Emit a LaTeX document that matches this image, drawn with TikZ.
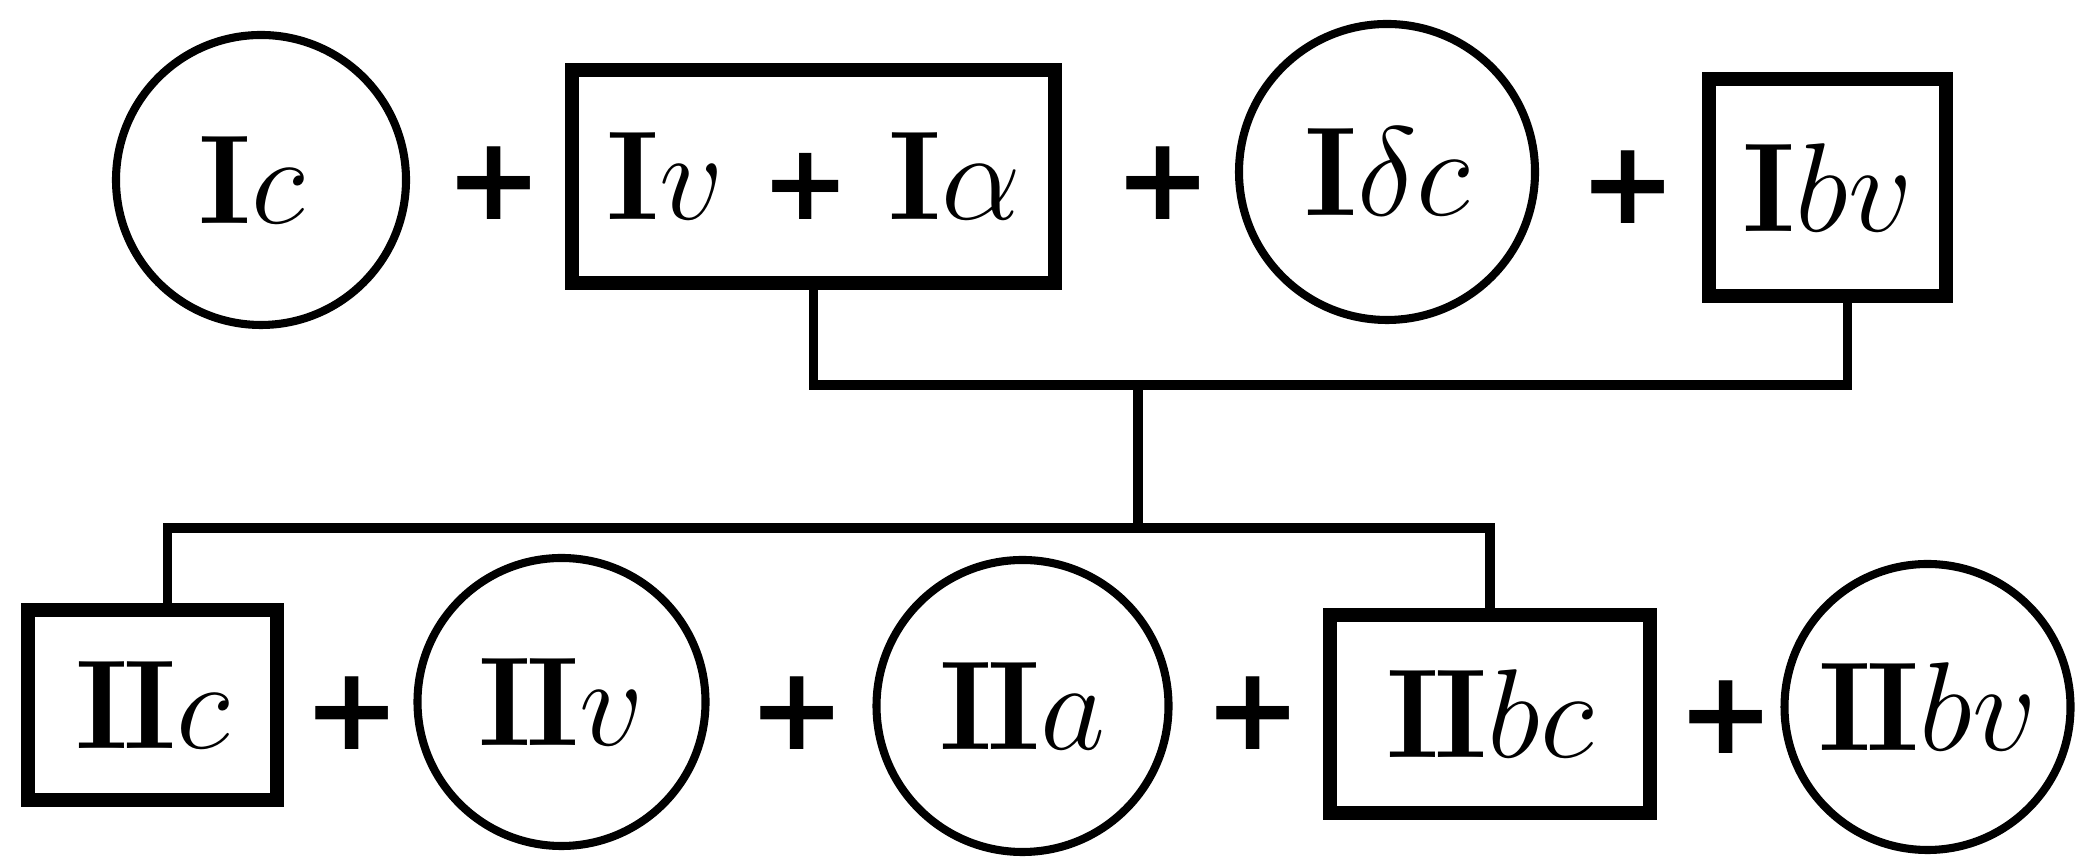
\RequirePackage{fix-cm}
\documentclass[tikz,border=0pt]{standalone}
\usepackage{fontspec}
\newfontfamily\plusfont{DejaVu Sans}
\usepackage{tikz}
\usetikzlibrary{positioning}

\begin{document}
\begin{tikzpicture}[
  circ/.style  = {draw, circle, line width=2.3pt, inner sep=0pt,
                  font=\fontsize{36}{40}\selectfont},
  box/.style   = {draw, rectangle, line width=4pt, inner sep=0pt,
                  font=\fontsize{36}{40}\selectfont},
  plus/.style  = {inner sep=0pt, font=\plusfont\fontsize{33}{35}\selectfont\bfseries},
  link/.style  = {line width=2.8pt}
]
\useasboundingbox (0,0) rectangle (20.79,8.58);

%% ---- TOP ROW ----
\node[circ, minimum size=2.90cm] (ic)  at (2.61,6.78)  {\textbf{I}$c$\kern0.15em};
\node[plus]                      (p1)  at (4.94,6.75)  {+};
\node[box, minimum width=4.83cm,
      minimum height=2.13cm]     (ivia) at (8.135,6.815) {\textbf{I}$v$ {\plusfont\bfseries\fontsize{30}{32}\selectfont +} \textbf{I}$\alpha$};
\node[plus]                      (p2)  at (11.63,6.75) {+};
\node[circ, minimum size=2.96cm] (idc) at (13.87,6.86) {\textbf{I}$\delta c$};
\node[plus]                      (p3)  at (16.28,6.71) {+};
\node[box, minimum width=2.37cm,
      minimum height=2.17cm]     (ibv) at (18.275,6.705) {\textbf{I}$bv$};

%% ---- BOTTOM ROW ----
\node[box, minimum width=2.49cm,
      minimum height=1.90cm]     (iic) at (1.525,1.53) {\textbf{I\kern-0.04em I}$c$};
\node[plus]                      (p4)  at (3.52,1.45)  {+};
\node[circ, minimum size=2.88cm] (iiv) at (5.615,1.56) {\textbf{I\kern-0.04em I}$v$};
\node[plus]                      (p5)  at (7.97,1.45)  {+};
\node[circ, minimum size=2.92cm] (iia) at (10.225,1.52) {\textbf{I\kern-0.04em I}$a$};
\node[plus]                      (p6)  at (12.53,1.45) {+};
\node[box, minimum width=3.20cm,
      minimum height=1.98cm]     (iibc) at (14.90,1.44) {\textbf{I\kern-0.04em I}$bc$};
\node[plus]                      (p7)  at (17.26,1.41) {+};
\node[circ, minimum size=2.86cm] (iibv) at (19.275,1.51) {\textbf{I\kern-0.04em I}$bv$};

% joins
\coordinate (upjoin)  at (11.38,4.73);
\coordinate (lowjoin) at (11.38,3.30);

\draw[link] (ivia.south) |- (upjoin) -| ([xshift=0.2cm]ibv.south);
\draw[link] (upjoin) -- (lowjoin);
\draw[link] ([xshift=0.15cm]iic.north) |- (lowjoin) -| (iibc.north);

\end{tikzpicture}
\end{document}
